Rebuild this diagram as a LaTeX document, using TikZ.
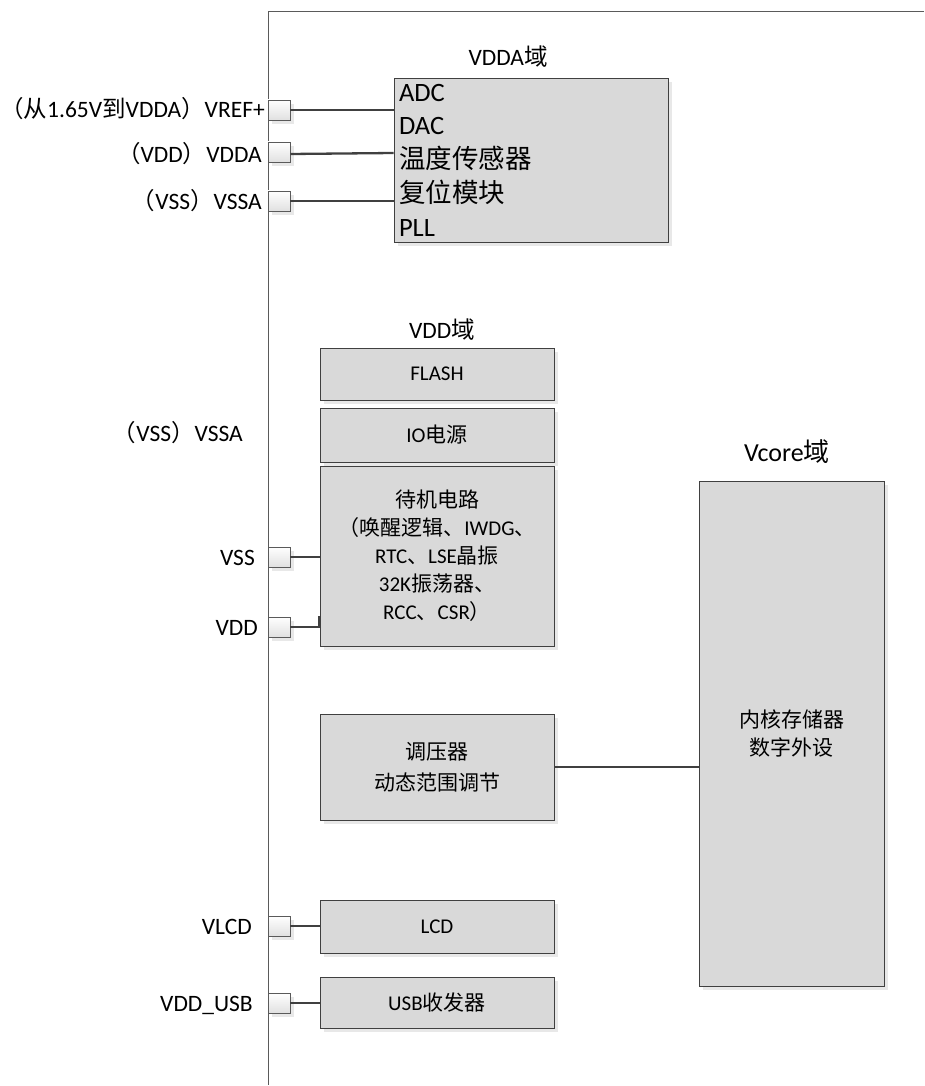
\documentclass[tikz,border=0pt]{standalone}
\usepackage{fontspec}
\setmainfont{Carlito}
\newfontfamily\cjk{Noto Sans CJK SC}
\newcommand\zh[1]{{\cjk #1}}
\usetikzlibrary{shadows,calc}
\definecolor{boxfill}{HTML}{D9D9D9}
\definecolor{edgec}{HTML}{404040}
\definecolor{framec}{HTML}{5A5A5A}
\begin{document}
\begin{tikzpicture}[x=1pt,y=-1pt,
  shad/.style={drop shadow={shadow xshift=4pt, shadow yshift=-4pt, fill=black!9, opacity=1}},
  blk/.style={draw=edgec, line width=0.8pt, fill=boxfill, shad, inner sep=0pt, align=center,
              minimum width=234pt, font=\fontsize{21}{28}\selectfont},
  pinbox/.style={draw=framec, line width=0.6pt, top color=white, bottom color=black!12,
                 minimum width=22pt, minimum height=20pt, inner sep=0pt, shad},
  lbl/.style={anchor=base east, inner sep=0pt, font=\fontsize{23.5}{28}\selectfont},
  wire/.style={draw=edgec, line width=2.3pt},
  ttl/.style={inner sep=0pt, font=\fontsize{23.5}{28}\selectfont}]
\useasboundingbox (0,0) rectangle (924,1086);

% outer frame
\draw[framec, line width=1pt] (924,12) -- (268,12) -- (268,1085);

% VDDA domain
\node[ttl] (tvdda) at (508,57) {VDDA\zh{域}};
\node[blk, minimum width=274pt, minimum height=164pt, text width=264pt, align=left,
      font=\fontsize{26.5}{33.75}\selectfont] (vdda) at (531,160)
      {ADC\\DAC\\\zh{温度传感器}\\\zh{复位模块}\\PLL};

% VDD domain
\node[ttl] (tvdd) at (442,330) {VDD\zh{域}};
\node[blk, minimum height=52pt] (flash) at (437,374) {FLASH};
\node[blk, minimum height=54pt] (io) at (437,435) {IO\zh{电源}};
\node[blk, minimum height=180pt] (stby) at (437,556)
      {\zh{待机电路}\\\zh{（唤醒逻辑、}IWDG\zh{、}\\RTC\zh{、}LSE\zh{晶振}\\32K\zh{振荡器、}\\RCC\zh{、}CSR\zh{）}};
\node[blk, minimum height=106pt, font=\fontsize{21}{31}\selectfont] (reg) at (437,767)
      {\zh{调压器}\\\zh{动态范围调节}};
\node[blk, minimum height=53pt] (lcd) at (437,926.5) {LCD};
\node[blk, minimum height=51pt] (usb) at (437,1002.5) {USB\zh{收发器}};

% Vcore domain
\node[ttl, font=\fontsize{26}{30}\selectfont] (tvcore) at (787,452) {Vcore\zh{域}};
\node[blk, minimum width=185pt, minimum height=505pt] (vcore) at (791.5,733.5)
      {\zh{内核存储器}\\\zh{数字外设}};

% pins
\node[pinbox] (p1) at (279,110) {};
\node[pinbox] (p2) at (279,152) {};
\node[pinbox] (p3) at (279,201) {};
\node[pinbox] (p4) at (279,557) {};
\node[pinbox] (p5) at (279,627) {};
\node[pinbox] (p6) at (279,926) {};
\node[pinbox] (p7) at (279,1003) {};

% labels
\node[lbl] (l1) at (265,118) {\zh{（从}1.65V\zh{到}VDDA\zh{）}VREF+};
\node[lbl] (l2) at (262,163) {\zh{（}VDD\zh{）}VDDA};
\node[lbl] (l3) at (262,209) {\zh{（}VSS\zh{）}VSSA};
\node[lbl] (l4) at (243,441) {\zh{（}VSS\zh{）}VSSA};
\node[lbl] (l5) at (255,565) {VSS};
\node[lbl] (l6) at (258,635) {VDD};
\node[lbl] (l7) at (252,934) {VLCD};
\node[lbl] (l8) at (253,1011) {VDD\_USB};

% wires
\draw[wire] (p1.east) -- (p1.east -| vdda.west);
\draw[wire] ($(p2.east)+(0,2)$) -- ($(p2.east -| vdda.west)+(0,1)$);
\draw[wire] (p3.east) -- (p3.east -| vdda.west);
\draw[wire] (p4.east) -- (p4.east -| stby.west);
\draw[wire] (p5.east) -- (p5.east -| stby.west) -- ++(0,-11);
\draw[wire] (reg.east) -- (reg.east -| vcore.west);
\draw[wire] (p6.east) -- (p6.east -| lcd.west);
\draw[wire] (p7.east) -- (p7.east -| usb.west);
\end{tikzpicture}
\end{document}
